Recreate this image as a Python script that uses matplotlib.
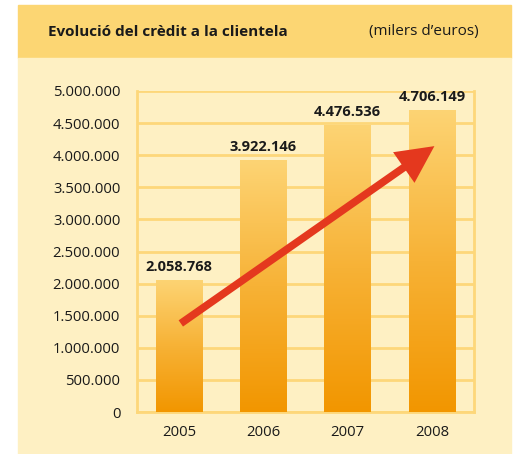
import numpy as np
import matplotlib.pyplot as plt
from matplotlib.patches import Rectangle
from matplotlib.colors import LinearSegmentedColormap

years = ['2005', '2006', '2007', '2008']
credit = [2058768, 3922146, 4476536, 4706149]
value_labels = ['2.058.768', '3.922.146', '4.476.536', '4.706.149']
yticks = [0, 500000, 1000000, 1500000, 2000000, 2500000, 3000000, 3500000, 4000000, 4500000, 5000000]
ytick_labels = ['0', '500.000', '1.000.000', '1.500.000', '2.000.000', '2.500.000',
                '3.000.000', '3.500.000', '4.000.000', '4.500.000', '5.000.000']

plt.rcParams['font.family'] = ['Open Sans', 'DejaVu Sans']

W, H = 523, 454
fig = plt.figure(figsize=(W / 100, H / 100), dpi=100)
fig.patch.set_facecolor('white')

# header band + cream panel (pixel coords -> figure fraction)
def px_rect(x0, y0, x1, y1, color):
    fig.patches.append(Rectangle((x0 / W, 1 - y1 / H), (x1 - x0) / W, (y1 - y0) / H,
                                 transform=fig.transFigure, color=color, zorder=-5))

px_rect(18, 5, 511, 58, '#FCD673')
px_rect(18, 58, 511, 454, '#FEF0C3')

fig.text(48 / W, 1 - 32 / H, 'Evolució del crèdit a la clientela', fontsize=11,
         fontweight='bold', color='#1a1a1a', va='center', ha='left')
fig.text(479 / W, 1 - 32 / H, '(milers d\u2019euros)', fontsize=11,
         color='#1a1a1a', va='center', ha='right')

ax = fig.add_axes([137 / W, 1 - 412 / H, (474 - 137) / W, (412 - 91) / H])
ax.set_facecolor('none')

grid_col = '#FDD77A'
x = np.arange(len(years))
bars = ax.bar(x, credit, width=0.55, color='none', edgecolor='none', zorder=3)

# each bar: light yellow at its top, orange at the bottom
cmap = LinearSegmentedColormap.from_list('bar', ['#F29600', '#F7B236', '#FDD474'])
grad = np.linspace(0, 1, 256).reshape(-1, 1)
for b in bars:
    x0 = b.get_x()
    im = ax.imshow(grad, cmap=cmap, origin='lower', aspect='auto',
                   extent=[x0, x0 + b.get_width(), 0, b.get_height()], zorder=3)
    im.set_clip_path(b)

for xi, v, lab in zip(x, credit, value_labels):
    ax.text(xi, v + 90000, lab, ha='center', va='bottom', fontsize=10.5,
            fontweight='bold', color='#1a1a1a', zorder=5)

ax.set_xlim(-0.5, 3.5)
ax.set_ylim(0, 5000000)
ax.set_yticks(yticks)
ax.set_yticklabels(ytick_labels)
ax.set_xticks(x)
ax.set_xticklabels(years)
ax.tick_params(length=0, labelsize=10.7, labelcolor='#1a1a1a')
ax.tick_params(axis='y', pad=12)
ax.tick_params(axis='x', pad=9)
ax.yaxis.grid(True, color=grid_col, linewidth=2, zorder=1)
ax.set_axisbelow(True)
for s in ['left', 'right', 'bottom']:
    ax.spines[s].set_color(grid_col)
    ax.spines[s].set_linewidth(2)
ax.spines['top'].set_visible(False)

# trend arrow from first to last year
ax.annotate('', xy=(x[-1] + 0.03, credit[-1] * 0.88), xytext=(x[0] + 0.02, credit[0] * 0.67),
            arrowprops=dict(arrowstyle='-|>,head_length=1.8,head_width=0.9',
                            color='#E4381E', lw=5.5, shrinkA=0, shrinkB=0,
                            capstyle='butt', joinstyle='miter'), zorder=6)

fig.savefig('out.png', dpi=100)
